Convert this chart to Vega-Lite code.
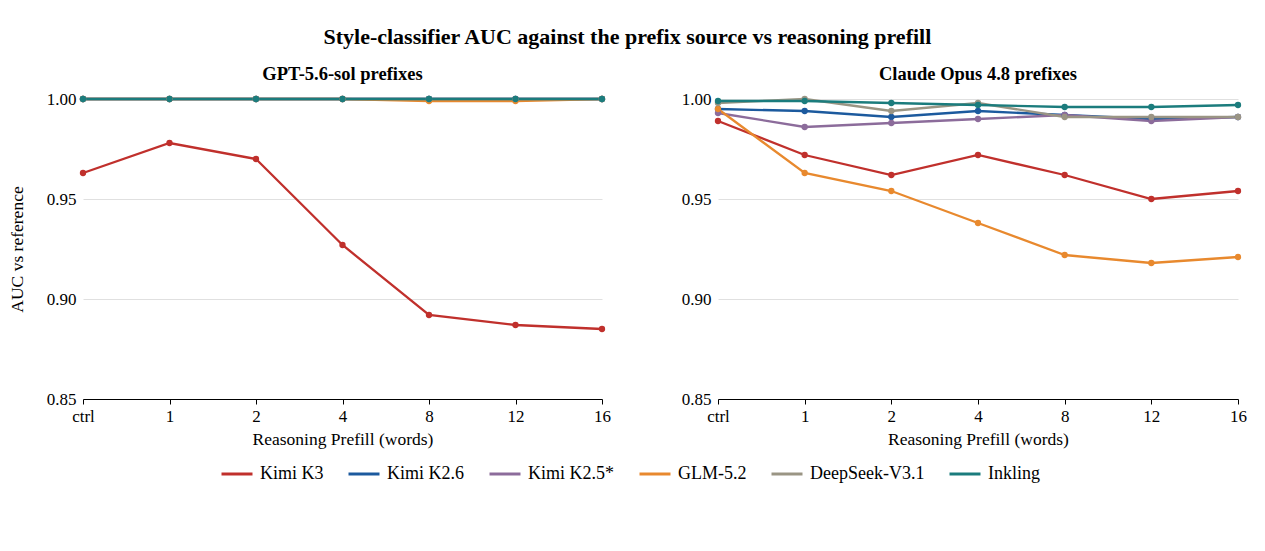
{
  "$schema": "https://vega.github.io/schema/vega-lite/v6.json",
  "padding": {"top": 25, "left": 8, "right": 5, "bottom": 5},
  "title": {
    "text": "Style-classifier AUC against the prefix source vs reasoning prefill",
    "fontSize": 22,
    "fontWeight": "bold",
    "anchor": "middle",
    "offset": 16
  },
  "datasets": {
    "auc": [
      {"panel": "gpt", "model": "Kimi K3", "prefill": "ctrl", "auc": 0.963},
      {"panel": "gpt", "model": "Kimi K3", "prefill": "1", "auc": 0.978},
      {"panel": "gpt", "model": "Kimi K3", "prefill": "2", "auc": 0.970},
      {"panel": "gpt", "model": "Kimi K3", "prefill": "4", "auc": 0.927},
      {"panel": "gpt", "model": "Kimi K3", "prefill": "8", "auc": 0.892},
      {"panel": "gpt", "model": "Kimi K3", "prefill": "12", "auc": 0.887},
      {"panel": "gpt", "model": "Kimi K3", "prefill": "16", "auc": 0.885},
      {"panel": "gpt", "model": "Kimi K2.6", "prefill": "ctrl", "auc": 1.0},
      {"panel": "gpt", "model": "Kimi K2.6", "prefill": "1", "auc": 1.0},
      {"panel": "gpt", "model": "Kimi K2.6", "prefill": "2", "auc": 1.0},
      {"panel": "gpt", "model": "Kimi K2.6", "prefill": "4", "auc": 1.0},
      {"panel": "gpt", "model": "Kimi K2.6", "prefill": "8", "auc": 1.0},
      {"panel": "gpt", "model": "Kimi K2.6", "prefill": "12", "auc": 1.0},
      {"panel": "gpt", "model": "Kimi K2.6", "prefill": "16", "auc": 1.0},
      {"panel": "gpt", "model": "Kimi K2.5*", "prefill": "ctrl", "auc": 1.0},
      {"panel": "gpt", "model": "Kimi K2.5*", "prefill": "1", "auc": 1.0},
      {"panel": "gpt", "model": "Kimi K2.5*", "prefill": "2", "auc": 1.0},
      {"panel": "gpt", "model": "Kimi K2.5*", "prefill": "4", "auc": 1.0},
      {"panel": "gpt", "model": "Kimi K2.5*", "prefill": "8", "auc": 1.0},
      {"panel": "gpt", "model": "Kimi K2.5*", "prefill": "12", "auc": 1.0},
      {"panel": "gpt", "model": "Kimi K2.5*", "prefill": "16", "auc": 1.0},
      {"panel": "gpt", "model": "GLM-5.2", "prefill": "ctrl", "auc": 1.0},
      {"panel": "gpt", "model": "GLM-5.2", "prefill": "1", "auc": 1.0},
      {"panel": "gpt", "model": "GLM-5.2", "prefill": "2", "auc": 1.0},
      {"panel": "gpt", "model": "GLM-5.2", "prefill": "4", "auc": 1.0},
      {"panel": "gpt", "model": "GLM-5.2", "prefill": "8", "auc": 0.999},
      {"panel": "gpt", "model": "GLM-5.2", "prefill": "12", "auc": 0.999},
      {"panel": "gpt", "model": "GLM-5.2", "prefill": "16", "auc": 1.0},
      {"panel": "gpt", "model": "DeepSeek-V3.1", "prefill": "ctrl", "auc": 1.0},
      {"panel": "gpt", "model": "DeepSeek-V3.1", "prefill": "1", "auc": 1.0},
      {"panel": "gpt", "model": "DeepSeek-V3.1", "prefill": "2", "auc": 1.0},
      {"panel": "gpt", "model": "DeepSeek-V3.1", "prefill": "4", "auc": 1.0},
      {"panel": "gpt", "model": "DeepSeek-V3.1", "prefill": "8", "auc": 1.0},
      {"panel": "gpt", "model": "DeepSeek-V3.1", "prefill": "12", "auc": 1.0},
      {"panel": "gpt", "model": "DeepSeek-V3.1", "prefill": "16", "auc": 1.0},
      {"panel": "gpt", "model": "Inkling", "prefill": "ctrl", "auc": 1.0},
      {"panel": "gpt", "model": "Inkling", "prefill": "1", "auc": 1.0},
      {"panel": "gpt", "model": "Inkling", "prefill": "2", "auc": 1.0},
      {"panel": "gpt", "model": "Inkling", "prefill": "4", "auc": 1.0},
      {"panel": "gpt", "model": "Inkling", "prefill": "8", "auc": 1.0},
      {"panel": "gpt", "model": "Inkling", "prefill": "12", "auc": 1.0},
      {"panel": "gpt", "model": "Inkling", "prefill": "16", "auc": 1.0},

      {"panel": "claude", "model": "Kimi K3", "prefill": "ctrl", "auc": 0.989},
      {"panel": "claude", "model": "Kimi K3", "prefill": "1", "auc": 0.972},
      {"panel": "claude", "model": "Kimi K3", "prefill": "2", "auc": 0.962},
      {"panel": "claude", "model": "Kimi K3", "prefill": "4", "auc": 0.972},
      {"panel": "claude", "model": "Kimi K3", "prefill": "8", "auc": 0.962},
      {"panel": "claude", "model": "Kimi K3", "prefill": "12", "auc": 0.950},
      {"panel": "claude", "model": "Kimi K3", "prefill": "16", "auc": 0.954},
      {"panel": "claude", "model": "Kimi K2.6", "prefill": "ctrl", "auc": 0.995},
      {"panel": "claude", "model": "Kimi K2.6", "prefill": "1", "auc": 0.994},
      {"panel": "claude", "model": "Kimi K2.6", "prefill": "2", "auc": 0.991},
      {"panel": "claude", "model": "Kimi K2.6", "prefill": "4", "auc": 0.994},
      {"panel": "claude", "model": "Kimi K2.6", "prefill": "8", "auc": 0.992},
      {"panel": "claude", "model": "Kimi K2.6", "prefill": "12", "auc": 0.990},
      {"panel": "claude", "model": "Kimi K2.6", "prefill": "16", "auc": 0.991},
      {"panel": "claude", "model": "Kimi K2.5*", "prefill": "ctrl", "auc": 0.993},
      {"panel": "claude", "model": "Kimi K2.5*", "prefill": "1", "auc": 0.986},
      {"panel": "claude", "model": "Kimi K2.5*", "prefill": "2", "auc": 0.988},
      {"panel": "claude", "model": "Kimi K2.5*", "prefill": "4", "auc": 0.990},
      {"panel": "claude", "model": "Kimi K2.5*", "prefill": "8", "auc": 0.992},
      {"panel": "claude", "model": "Kimi K2.5*", "prefill": "12", "auc": 0.989},
      {"panel": "claude", "model": "Kimi K2.5*", "prefill": "16", "auc": 0.991},
      {"panel": "claude", "model": "GLM-5.2", "prefill": "ctrl", "auc": 0.995},
      {"panel": "claude", "model": "GLM-5.2", "prefill": "1", "auc": 0.963},
      {"panel": "claude", "model": "GLM-5.2", "prefill": "2", "auc": 0.954},
      {"panel": "claude", "model": "GLM-5.2", "prefill": "4", "auc": 0.938},
      {"panel": "claude", "model": "GLM-5.2", "prefill": "8", "auc": 0.922},
      {"panel": "claude", "model": "GLM-5.2", "prefill": "12", "auc": 0.918},
      {"panel": "claude", "model": "GLM-5.2", "prefill": "16", "auc": 0.921},
      {"panel": "claude", "model": "DeepSeek-V3.1", "prefill": "ctrl", "auc": 0.998},
      {"panel": "claude", "model": "DeepSeek-V3.1", "prefill": "1", "auc": 1.0},
      {"panel": "claude", "model": "DeepSeek-V3.1", "prefill": "2", "auc": 0.994},
      {"panel": "claude", "model": "DeepSeek-V3.1", "prefill": "4", "auc": 0.998},
      {"panel": "claude", "model": "DeepSeek-V3.1", "prefill": "8", "auc": 0.991},
      {"panel": "claude", "model": "DeepSeek-V3.1", "prefill": "12", "auc": 0.991},
      {"panel": "claude", "model": "DeepSeek-V3.1", "prefill": "16", "auc": 0.991},
      {"panel": "claude", "model": "Inkling", "prefill": "ctrl", "auc": 0.999},
      {"panel": "claude", "model": "Inkling", "prefill": "1", "auc": 0.999},
      {"panel": "claude", "model": "Inkling", "prefill": "2", "auc": 0.998},
      {"panel": "claude", "model": "Inkling", "prefill": "4", "auc": 0.997},
      {"panel": "claude", "model": "Inkling", "prefill": "8", "auc": 0.996},
      {"panel": "claude", "model": "Inkling", "prefill": "12", "auc": 0.996},
      {"panel": "claude", "model": "Inkling", "prefill": "16", "auc": 0.997}
    ]
  },
  "data": {"name": "auc"},
  "spacing": 70,
  "hconcat": [
    {
      "title": "GPT-5.6-sol prefixes",
      "width": 519,
      "height": 300,
      "transform": [{"filter": "datum.panel === 'gpt'"}],
      "encoding": {
        "x": {
          "field": "prefill",
          "type": "ordinal",
          "sort": ["ctrl", "1", "2", "4", "8", "12", "16"],
          "scale": {"type": "point", "padding": 0},
          "title": "Reasoning Prefill (words)"
        },
        "y": {
          "field": "auc",
          "type": "quantitative",
          "scale": {"domain": [0.85, 1.0], "nice": false, "zero": false},
          "axis": {"values": [0.85, 0.9, 0.95, 1.0], "format": ".2f"},
          "title": "AUC vs reference"
        },
        "color": {
          "field": "model",
          "type": "nominal",
          "sort": ["Kimi K3", "Kimi K2.6", "Kimi K2.5*", "GLM-5.2", "DeepSeek-V3.1", "Inkling"],
          "scale": {
            "domain": ["Kimi K3", "Kimi K2.6", "Kimi K2.5*", "GLM-5.2", "DeepSeek-V3.1", "Inkling"],
            "range": ["#c0302c", "#1c5a9e", "#8c6c9b", "#e8892e", "#9a9584", "#1b7c7d"]
          },
          "legend": {"title": null}
        }
      },
      "layer": [
        {"mark": {"type": "line", "strokeWidth": 2.3}},
        {"mark": {"type": "circle", "size": 40, "opacity": 1}}
      ]
    },
    {
      "title": "Claude Opus 4.8 prefixes",
      "width": 520,
      "height": 300,
      "transform": [{"filter": "datum.panel === 'claude'"}],
      "encoding": {
        "x": {
          "field": "prefill",
          "type": "ordinal",
          "sort": ["ctrl", "1", "2", "4", "8", "12", "16"],
          "scale": {"type": "point", "padding": 0},
          "title": "Reasoning Prefill (words)"
        },
        "y": {
          "field": "auc",
          "type": "quantitative",
          "scale": {"domain": [0.85, 1.0], "nice": false, "zero": false},
          "axis": {"values": [0.85, 0.9, 0.95, 1.0], "format": ".2f"},
          "title": null
        },
        "color": {
          "field": "model",
          "type": "nominal",
          "sort": ["Kimi K3", "Kimi K2.6", "Kimi K2.5*", "GLM-5.2", "DeepSeek-V3.1", "Inkling"],
          "scale": {
            "domain": ["Kimi K3", "Kimi K2.6", "Kimi K2.5*", "GLM-5.2", "DeepSeek-V3.1", "Inkling"],
            "range": ["#c0302c", "#1c5a9e", "#8c6c9b", "#e8892e", "#9a9584", "#1b7c7d"]
          },
          "legend": {"title": null}
        }
      },
      "layer": [
        {"mark": {"type": "line", "strokeWidth": 2.3}},
        {"mark": {"type": "circle", "size": 40, "opacity": 1}}
      ]
    }
  ],
  "config": {
    "font": "Liberation Serif",
    "view": {"stroke": null},
    "title": {"fontSize": 18.5, "fontWeight": "bold", "color": "#000", "offset": 7},
    "axis": {
      "labelFontSize": 17,
      "titleFontSize": 17.5,
      "titleFontWeight": "normal",
      "labelColor": "#000",
      "titleColor": "#000"
    },
    "axisX": {
      "grid": false,
      "domainColor": "#000",
      "tickColor": "#000",
      "labelAngle": 0,
      "labelPadding": 4,
      "titlePadding": 6
    },
    "axisY": {
      "domain": false,
      "ticks": false,
      "gridColor": "#e0e0e0",
      "labelPadding": 7,
      "titlePadding": 20
    },
    "legend": {
      "orient": "none",
      "legendX": 137,
      "legendY": 358,
      "direction": "horizontal",
      "symbolType": "stroke",
      "symbolSize": 961,
      "symbolStrokeWidth": 3,
      "labelFontSize": 18,
      "labelColor": "#000",
      "columnPadding": 18,
      "labelOffset": 6
    }
  }
}
